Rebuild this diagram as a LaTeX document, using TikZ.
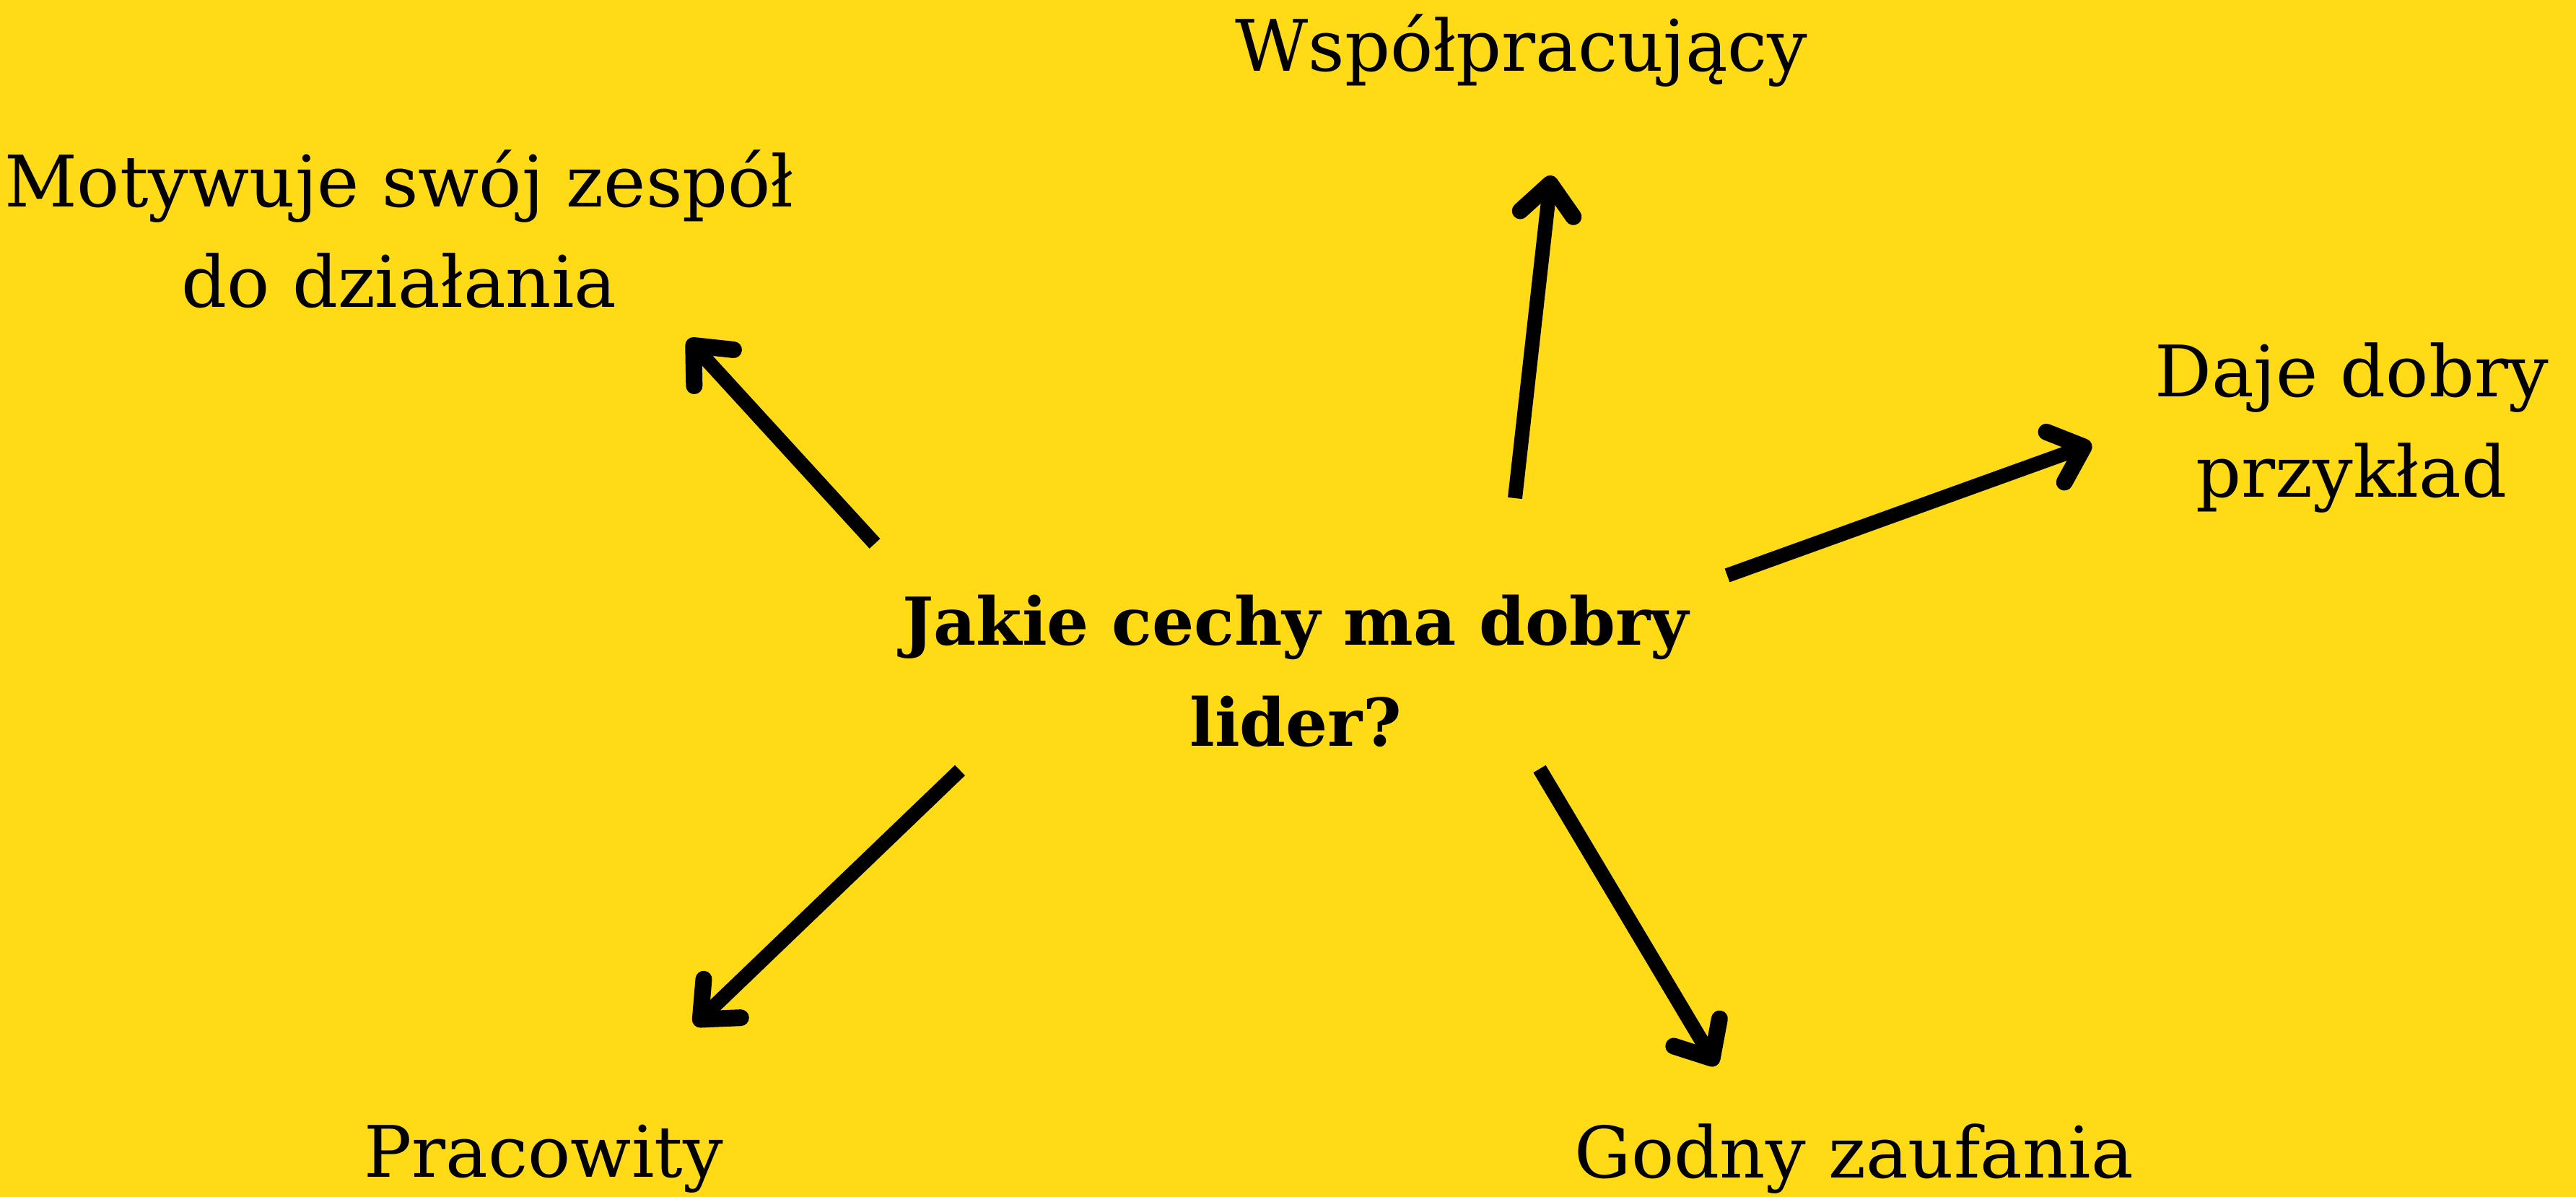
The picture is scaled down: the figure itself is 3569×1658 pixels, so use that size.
\documentclass[tikz,border=0pt]{standalone}
\usepackage{fontspec}
\setmainfont{DejaVu Serif}
\usetikzlibrary{arrows.meta}
\definecolor{tlo}{RGB}{255,218,22}

\begin{document}
\begin{tikzpicture}[x=0.01cm, y=-0.01cm,
        cecha/.style={anchor=base, align=center, inner sep=0pt, font=\fontsize{28}{39.8}\selectfont},
        pytanie/.style={cecha, font=\fontsize{26}{39.8}\selectfont\bfseries},
        strzalka/.style={line width=0.2cm, -{Straight Barb[length=0.42cm, width=0.74cm, line width=0.23cm 0, line cap=round, line join=round]}}]
    \fill[tlo] (0,0) rectangle (3569,1658);
    \useasboundingbox (0,0) rectangle (3569,1658);
    % base = last line
    \node[pytanie] (lider) at (1795,1033) {Jakie cechy ma dobry\\lider?};
    \node[cecha] (motywuje) at (553,426) {Motywuje swój zespół\\do działania};
    \node[cecha] (wspol) at (2108,99) {Współpracujący};
    \node[cecha] (przyklad) at (3258,689) {Daje dobry\\przykład};
    \node[cecha] (pracowity) at (753,1630) {Pracowity};
    \node[cecha] (zaufanie) at (2569,1631) {Godny zaufania};
    \coordinate (s1) at (1212,753); \coordinate (k1) at (953,470);
    \coordinate (s2) at (2099,690); \coordinate (k2) at (2149,243);
    \coordinate (s3) at (2393,797); \coordinate (k3) at (2898,615);
    \coordinate (s4) at (2133,1065); \coordinate (k4) at (2378,1476);
    \coordinate (s5) at (1330,1067); \coordinate (k5) at (962,1420);
    \draw[strzalka] (s1) -- (k1); % to motywuje
    \draw[strzalka] (s2) -- (k2); % to wspol
    \draw[strzalka] (s3) -- (k3); % to przyklad
    \draw[strzalka] (s4) -- (k4); % to zaufanie
    \draw[strzalka] (s5) -- (k5); % to pracowity
\end{tikzpicture}
\end{document}
